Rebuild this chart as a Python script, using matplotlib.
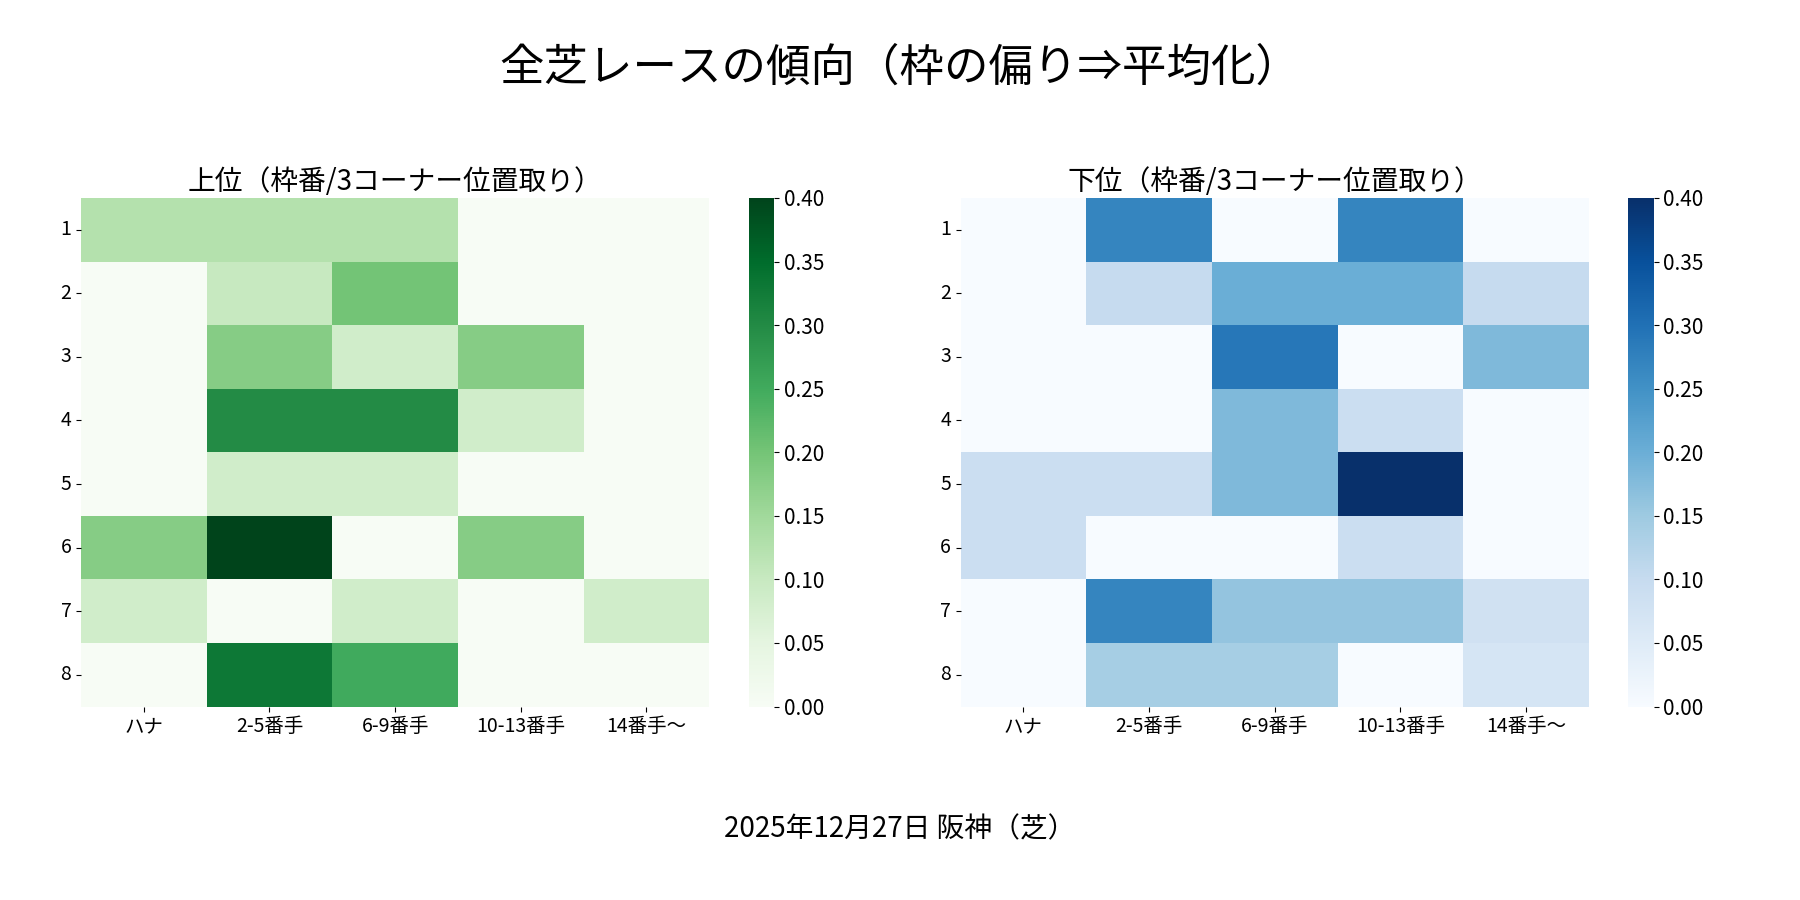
import numpy as np
import matplotlib
matplotlib.use('Agg')
import matplotlib.pyplot as plt
import seaborn as sns

plt.rcParams['font.family'] = ['Noto Sans CJK JP', 'DejaVu Sans']

gates = ['1', '2', '3', '4', '5', '6', '7', '8']
positions = ['ハナ', '2-5番手', '6-9番手', '10-13番手', '14番手〜']

# 上位
top_vals = np.array([
    [0.125, 0.125, 0.125, 0, 0],
    [0, 0.10, 0.20, 0, 0],
    [0, 0.18, 0.085, 0.18, 0],
    [0, 0.30, 0.30, 0.085, 0],
    [0, 0.085, 0.085, 0, 0],
    [0.18, 0.40, 0, 0.18, 0],
    [0.085, 0, 0.085, 0, 0.085],
    [0, 0.33, 0.25, 0, 0],
])
# 下位
bottom_vals = np.array([
    [0, 0.27, 0, 0.27, 0],
    [0, 0.10, 0.20, 0.20, 0.10],
    [0, 0, 0.29, 0, 0.18],
    [0, 0, 0.18, 0.09, 0],
    [0.09, 0.09, 0.18, 0.40, 0],
    [0.09, 0, 0, 0.09, 0],
    [0, 0.27, 0.16, 0.16, 0.08],
    [0, 0.14, 0.14, 0, 0.07],
])

fig, axes = plt.subplots(1, 2, figsize=(18, 9), dpi=100)
fig.subplots_adjust(left=0.045, right=0.97, top=0.78, bottom=0.215, wspace=0.12)

for ax, vals, cmap, title in [
    (axes[0], top_vals, 'Greens', '上位（枠番/3コーナー位置取り）'),
    (axes[1], bottom_vals, 'Blues', '下位（枠番/3コーナー位置取り）'),
]:
    sns.heatmap(vals, ax=ax, cmap=cmap, vmin=0, vmax=0.4,
                xticklabels=positions, yticklabels=gates,
                cbar_kws={'ticks': np.arange(0, 0.41, 0.05)})
    ax.set_title(title, fontsize=20)
    ax.tick_params(axis='both', labelsize=14)
    ax.set_yticklabels(gates, rotation=0)
    ax.set_xticklabels(positions, rotation=0)
    cb = ax.collections[0].colorbar
    cb.ax.tick_params(labelsize=15)
    cb.ax.set_yticklabels([f'{t:.2f}' for t in np.arange(0, 0.41, 0.05)])

fig.suptitle('全芝レースの傾向（枠の偏り⇒平均化）', fontsize=32, y=0.95)
fig.text(0.5, 0.07, '2025年12月27日 阪神（芝）', ha='center', fontsize=20)

plt.savefig('out.png')
